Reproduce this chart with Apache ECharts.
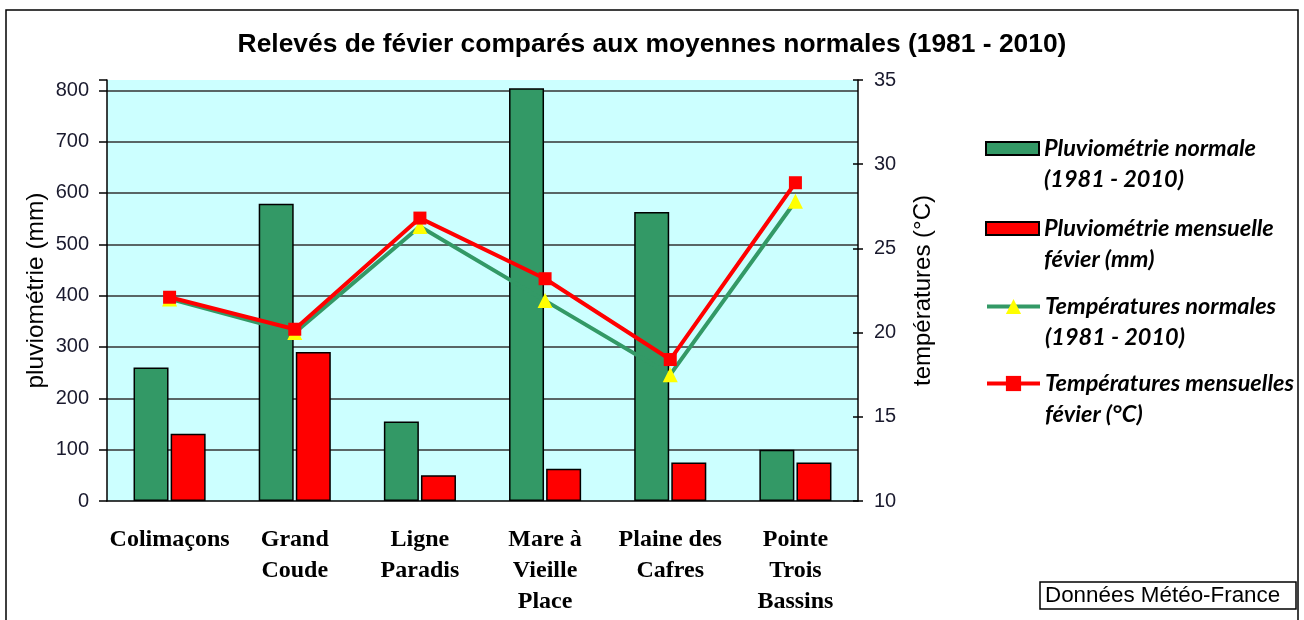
<!DOCTYPE html>
<html>
<head>
<meta charset="utf-8">
<script src="https://cdn.jsdelivr.net/npm/echarts@6/dist/echarts.min.js"></script>
<style>
  html, body { margin: 0; padding: 0; background: #fff; }
  #chart { width: 1304px; height: 620px; }
</style>
</head>
<body>
<div id="chart"></div>
<script>
// stations
const categories = ['Colimaçons', 'Grand\nCoude', 'Ligne\nParadis', 'Mare à\nVieille\nPlace', 'Plaine des\nCafres', 'Pointe\nTrois\nBassins']
// pluviométrie (mm)
const pluieNormale = [260, 579, 155, 804, 563, 100]
const pluieFevrier = [131, 290, 50, 63, 75, 75]
// températures (°C)
const tempNormale = [22.0, 20.0, 26.3, 21.9, 17.5, 27.8]
const tempFevrier = [22.1, 20.2, 26.8, 23.2, 18.4, 28.9]
// left axis tick labels
const pluieTicks = [0, 100, 200, 300, 400, 500, 600, 700, 800]

const seriesNames = [
  'Pluviométrie normale (1981 - 2010)',
  'Pluviométrie mensuelle févier (mm)',
  'Températures normales (1981 - 2010)',
  'Températures mensuelles févier (°C)'
]
const legendLabels = [
  'Pluviométrie normale\n(1981 - 2010)',
  'Pluviométrie mensuelle\nfévier (mm)',
  'Températures normales\n(1981 - 2010)',
  'Températures mensuelles\nfévier (°C)'
]
const legendTops = [102, 182, 263, 340]

const chart = echarts.init(document.getElementById('chart'))

chart.setOption({
  animation: false,
  backgroundColor: '#fff',
  textStyle: { fontFamily: 'Liberation Sans, Arial, sans-serif' },
  title: [{
    text: 'Relevés de févier comparés aux moyennes normales (1981 - 2010)',
    left: 'center',
    top: 32,
    padding: 0,
    textStyle: { fontSize: 26.4, fontWeight: 'bold', color: '#000', fontFamily: 'Liberation Sans' }
  }, {
    text: 'Données Météo-France',
    left: 1040,
    top: 582,
    padding: [3, 16, 2, 5],
    borderColor: '#000',
    borderWidth: 1.5,
    textStyle: { fontSize: 22.4, fontWeight: 'normal', color: '#000', fontFamily: 'Liberation Sans' }
  }],
  graphic: [{
    type: 'rect',
    shape: { x: 6, y: 10, width: 1292, height: 640 },
    style: { fill: 'none', stroke: '#000', lineWidth: 1.5 },
    silent: true
  }],
  legend: seriesNames.map((name, i) => ({
    data: [name],
    left: 985,
    top: i < 2 ? legendTops[i] : legendTops[i] - 3,
    padding: 0,
    itemWidth: 53,
    itemHeight: i < 2 ? 13 : 19,
    icon: i < 2 ? 'rect' : undefined,
    selectedMode: false,
    formatter: () => '\n' + legendLabels[i],
    lineStyle: { width: 4 },
    textStyle: {
      fontFamily: 'Lato',
      fontStyle: 'italic',
      fontWeight: 'bold',
      fontSize: 23.5,
      color: '#000',
      lineHeight: 31
    }
  })),
  grid: {
    left: 107,
    right: 446,
    top: 80,
    bottom: 119,
    show: true,
    backgroundColor: '#CCFFFF',
    borderWidth: 0
  },
  xAxis: [{
    type: 'category',
    data: categories,
    position: 'bottom',
    axisLine: { lineStyle: { color: '#000', width: 1.5 } },
    axisTick: { length: 8, lineStyle: { color: '#000', width: 1.5 } },
    axisLabel: {
      interval: 0,
      margin: 23,
      fontFamily: 'Liberation Serif',
      fontWeight: 'bold',
      fontSize: 24,
      lineHeight: 31,
      color: '#000'
    }
  }, {
    // inner half of the crossing ticks
    type: 'category',
    data: categories,
    position: 'bottom',
    axisLine: { show: false },
    axisTick: { inside: true, length: 8, lineStyle: { color: '#000', width: 1.5 } },
    axisLabel: { show: false }
  }],
  yAxis: [{
    type: 'value',
    min: 0,
    max: 820,
    interval: 100,
    position: 'left',
    name: 'pluviométrie (mm)',
    nameLocation: 'middle',
    nameRotate: 90,
    nameGap: 58,
    nameMoveOverlap: false,
    nameTextStyle: { fontSize: 24.5, color: '#000' },
    axisLine: { show: true, lineStyle: { color: '#000', width: 1.5 } },
    axisTick: { show: true, length: 8, lineStyle: { color: '#000', width: 1.5 } },
    axisLabel: { customValues: pluieTicks, fontSize: 20, color: '#1a1a2e', margin: 18 },
    splitLine: { show: true, showMinLine: false, showMaxLine: false, lineStyle: { color: '#333', width: 1.5 } }
  }, {
    type: 'value',
    min: 10,
    max: 35,
    interval: 5,
    position: 'right',
    name: 'températures (°C)',
    nameLocation: 'middle',
    nameRotate: 90,
    nameGap: 53,
    nameTextStyle: { fontSize: 24, color: '#000' },
    axisLine: { show: true, lineStyle: { color: '#000', width: 1.5 } },
    axisTick: { show: true, length: 5, lineStyle: { color: '#000', width: 1.5 } },
    axisLabel: { fontSize: 20, color: '#1a1a2e', margin: 16 },
    splitLine: { show: false }
  }, {
    // inner half of the crossing ticks
    type: 'value',
    min: 10,
    max: 35,
    interval: 5,
    position: 'right',
    axisLine: { show: false },
    axisTick: { show: true, inside: true, length: 5, lineStyle: { color: '#000', width: 1.5 } },
    axisLabel: { show: false },
    splitLine: { show: false }
  }],
  series: [{
    name: seriesNames[0],
    type: 'bar',
    yAxisIndex: 0,
    data: pluieNormale,
    barWidth: 35,
    barGap: '6%',
    itemStyle: { color: '#339966', borderColor: '#000', borderWidth: 1.5 }
  }, {
    name: seriesNames[1],
    type: 'bar',
    yAxisIndex: 0,
    data: pluieFevrier,
    barWidth: 35,
    barGap: '6%',
    itemStyle: { color: '#FF0000', borderColor: '#000', borderWidth: 1.5 }
  }, {
    name: seriesNames[2],
    type: 'line',
    yAxisIndex: 1,
    data: tempNormale,
    symbol: 'triangle',
    symbolSize: 15,
    showAllSymbol: true,
    lineStyle: { color: '#339966', width: 4 },
    itemStyle: { color: '#FFFF00', borderWidth: 0 }
  }, {
    name: seriesNames[3],
    type: 'line',
    yAxisIndex: 1,
    data: tempFevrier,
    symbol: 'rect',
    symbolSize: 13,
    showAllSymbol: true,
    lineStyle: { color: '#FF0000', width: 4 },
    itemStyle: { color: '#FF0000', borderWidth: 0 }
  }]
})
</script>
</body>
</html>
